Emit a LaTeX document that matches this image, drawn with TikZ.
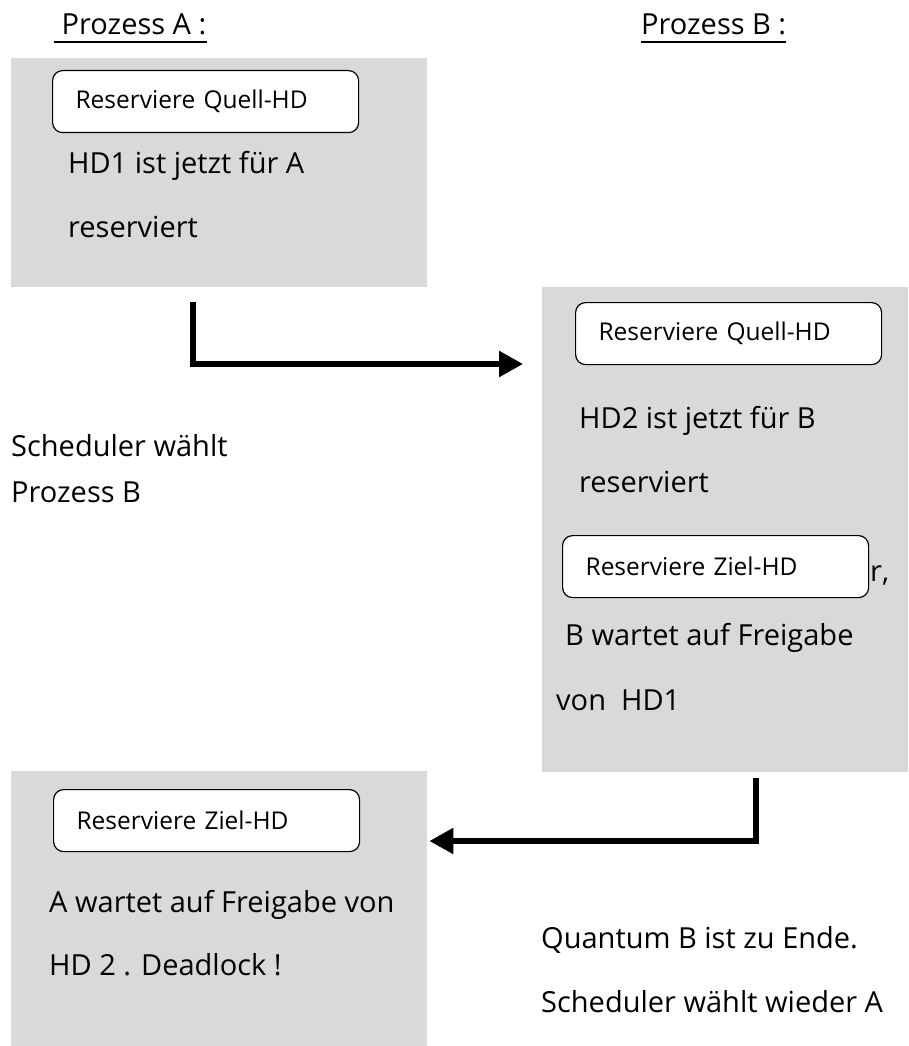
\documentclass[tikz,border=0pt]{standalone}
\usepackage{fontspec}
\setmainfont{Open Sans}
\usetikzlibrary{arrows.meta,calc}

\definecolor{hgrau}{RGB}{217,217,217}

\begin{document}
\begin{tikzpicture}[x=1pt,y=-1pt,
  feld/.style={fill=hgrau,inner sep=0pt,anchor=north west},
  aktion/.style={draw,fill=white,rounded corners=10pt,line width=1.2pt,
    anchor=north west,inner xsep=23pt,inner ysep=0pt,text width=260pt,
    align=left,minimum height=62pt,font=\fontsize{24.5}{28}\selectfont},
  txt/.style={anchor=base west,inner sep=0pt,font=\fontsize{29}{34}\selectfont},
  pfeil/.style={line width=5.5pt,-{Triangle[length=24pt,width=25pt]}}
]
  \useasboundingbox (0,0) rectangle (908,1046);

  % Prozess A / B
  \node[txt] (titelA) at (54,35) {\ Prozess A :};
  \node[txt] (titelB) at (641,35) {Prozess B :};
  \draw[line width=1.8pt] ($(titelA.base west)+(0,7)$) -- ($(titelA.base east)+(0,7)$);
  \draw[line width=1.8pt] ($(titelB.base west)+(0,7)$) -- ($(titelB.base east)+(0,7)$);

  % graue Felder
  \node[feld,minimum width=416pt,minimum height=229pt] (feldA) at (11,58) {};
  \node[feld,minimum width=366pt,minimum height=485pt] (feldB) at (542,287) {};
  \node[feld,minimum width=416pt,minimum height=275pt] (feldC) at (11,771) {};

  % Prozess A
  \node[aktion] (quellA) at (52,70) {Reserviere Quell-HD};
  \node[txt] (hd1) at (68,173) {HD1 ist jetzt für A};
  \node[txt] (resA) at (68,237) {reserviert};

  % Prozess B
  \node[aktion] (quellB) at (575,302) {Reserviere Quell-HD};
  \node[txt] (hd2) at (579,428) {HD2 ist jetzt für B};
  \node[txt] (resB) at (579,492) {reserviert};
  \node[aktion] (zielB) at (562,535) {Reserviere Ziel-HD};
  \node[txt] (rest) at (870,581) {r,};
  \node[txt] (wartB) at (565,645) {B wartet auf Freigabe};
  \node[txt] (vonB) at (556,710) {von\ \ HD1};

  % Prozess A wieder
  \node[aktion] (zielA) at (53,789) {Reserviere Ziel-HD};
  \node[txt] (wartA) at (49,912) {A wartet auf Freigabe von};
  \node[txt] (dead) at (49,975) {HD 2 . Deadlock !};

  % Scheduler
  \node[txt] (sched1) at (11,456) {Scheduler wählt};
  \node[txt] (sched2) at (11,502) {Prozess B};
  \node[txt] (quant1) at (541,948) {Quantum B ist zu Ende.};
  \node[txt] (quant2) at (541,1012) {Scheduler wählt wieder A};

  % Pfeile
  \coordinate (p1) at (193,302);
  \coordinate (p2) at (756,778);
  \draw[pfeil] (p1) |- ($(feldB.west |- 0,364)+(-19,0)$);
  \draw[pfeil] (p2) |- ($(feldC.east |- 0,841)+(2,0)$);

\end{tikzpicture}
\end{document}
